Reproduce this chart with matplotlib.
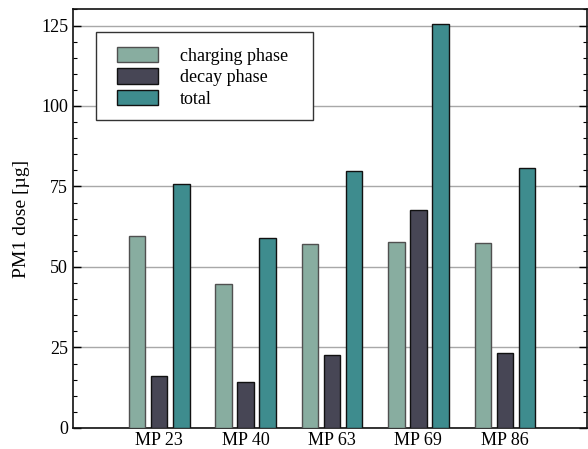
import numpy as np
import matplotlib.pyplot as plt
from matplotlib.patches import Rectangle
from matplotlib.ticker import MultipleLocator

plt.rcParams['font.family'] = ['Liberation Serif', 'DejaVu Serif']
plt.rcParams['font.size'] = 11.5

# Messpunkte und Dosiswerte
stations = ['MP 23', 'MP 40', 'MP 63', 'MP 69', 'MP 86']
charging = [59.5, 44.6, 57.0, 57.7, 57.5]
decay = [16.2, 14.3, 22.8, 67.8, 23.2]
total = [75.8, 58.9, 79.9, 125.5, 80.8]

series = [
    ('charging phase', charging, '#88ada0', '#505050'),
    ('decay phase', decay, '#474655', '#111111'),
    ('total', total, '#3e8c8e', '#111111'),
]

fig = plt.figure(figsize=(5.88, 4.49), dpi=100)
ax = fig.add_axes([0.124, 0.047, 0.874, 0.932])

x = np.arange(len(stations))
w = 0.19
step = 0.255
for i, (name, vals, fc, ec) in enumerate(series):
    ax.bar(x + (i - 1) * step, vals, width=w, color=fc, edgecolor=ec,
           linewidth=1.0, label=name, zorder=3)

ax.set_xlim(-1.0, 4.95)
ax.set_ylim(0, 130)
ax.set_xticks(x)
ax.set_xticklabels(stations, fontsize=13)
ax.tick_params(axis='x', length=0, pad=3)
ax.yaxis.set_major_locator(MultipleLocator(25))
ax.yaxis.set_minor_locator(MultipleLocator(5))
ax.tick_params(axis='y', which='major', direction='in', length=6, width=1,
               right=True, labelsize=13)
ax.tick_params(axis='y', which='minor', direction='in', length=3, width=0.8,
               right=True)
ax.grid(axis='y', color='#a8a8a8', linewidth=1.0, zorder=0)
for s in ax.spines.values():
    s.set_linewidth(1.2)
    s.set_color('#111111')

ax.set_ylabel('PM1 dose [µg]', fontsize=14, labelpad=8)

# Legendenrahmen separat, damit der Innenabstand frei wählbar ist
ax.add_patch(Rectangle((0.045, 0.735), 0.422, 0.212, transform=ax.transAxes,
                       facecolor='white', edgecolor='#333333', linewidth=1.0,
                       zorder=5))
leg = ax.legend(loc='upper left', bbox_to_anchor=(0.0856, 0.911),
                borderaxespad=0, frameon=False, handlelength=2.3,
                handleheight=0.95, handletextpad=1.2, labelspacing=0.2,
                borderpad=0, fontsize=13)
leg.set_zorder(6)

fig.savefig('out.png', dpi=100)
